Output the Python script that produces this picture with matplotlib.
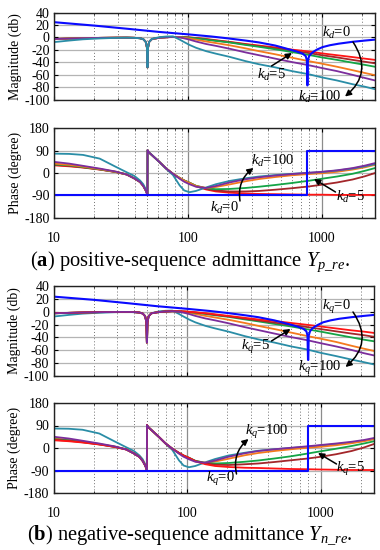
import matplotlib
matplotlib.use('Agg')
import matplotlib.pyplot as plt
from matplotlib.ticker import LogLocator, NullFormatter, FixedLocator

plt.rcParams['font.family'] = ['Liberation Serif', 'DejaVu Serif']
plt.rcParams['mathtext.fontset'] = 'custom'
plt.rcParams['mathtext.rm'] = 'Liberation Serif'
plt.rcParams['mathtext.it'] = 'Liberation Serif:italic'
plt.rcParams['mathtext.bf'] = 'Liberation Serif:bold'
plt.rcParams['axes.unicode_minus'] = False

# ---------------- data ----------------
freq = [10, 13, 16.5, 22, 29, 35, 40, 44, 46.5, 48.5, 49.5, 49.95, 50.05, 50.5, 51.5, 54, 61.5, 69, 77.5,
        87, 94, 103, 115, 137, 162, 204, 270, 340, 450, 600, 800, 1000, 1300, 1700, 2100, 2500]

# (a) magnitude, dB
mag_a_red    = [-2.5, -1.8, -1.2, -0.7, -0.4, -0.3, -0.6, -1.3, -2.8, -7, -16, -48, -48, -16, -7, -2.5, -0.5, 0.3, 0.8,
                0.7, 0.5, 0, -0.8, -2.5, -4.5, -7, -10.5, -13, -16, -19.5, -22.5, -25.5, -28.5, -31.5, -34, -36]
mag_a_brown  = [-2.5, -1.8, -1.2, -0.7, -0.4, -0.3, -0.6, -1.3, -2.8, -7, -16, -48, -48, -16, -7, -2.5, -0.5, 0.3, 0.8,
                0.7, 0.4, -0.2, -1.1, -3, -5, -7.5, -11.2, -14, -17.5, -21.5, -25, -28.5, -32, -36, -39, -41.5]
mag_a_green  = [-2.5, -1.8, -1.2, -0.7, -0.4, -0.3, -0.6, -1.3, -2.8, -7, -16, -48, -48, -16, -7, -2.5, -0.5, 0.3, 0.8,
                0.6, 0.2, -0.5, -1.5, -3.5, -5.5, -8, -12, -15, -19, -23.5, -28, -32, -36, -40.5, -44, -47]
mag_a_orange = [-2.5, -1.8, -1.2, -0.7, -0.4, -0.3, -0.6, -1.3, -2.8, -7, -16, -48, -48, -16, -7, -2.5, -0.5, 0.3, 0.8,
                0.3, -0.6, -1.8, -3.5, -6.5, -9, -12.5, -17.5, -22, -27, -32.5, -38, -42, -47, -52.5, -57, -60.5]
mag_a_purple = [-2.5, -1.8, -1.2, -0.7, -0.4, -0.3, -0.6, -1.3, -2.8, -7, -16, -48, -48, -16, -7, -2.5, -0.5, 0.3, 0.8,
                0, -1.5, -3.5, -6.5, -10.5, -13.5, -18, -24, -28.5, -34, -39.5, -44.5, -49, -54, -60, -65, -69]
mag_a_teal   = [-7.5, -5, -3, -1.6, -0.7, -0.4, -0.7, -1.4, -2.9, -7, -16, -48, -48, -16, -7, -2.3, 0.5, 1.5, 1.8,
                -3.5, -7.5, -12, -16.5, -22, -26, -31, -38, -43, -48, -54, -59, -64, -69, -75, -79, -83]

# (a) phase, degree
ph_a_red    = [31, 27, 22, 14, 4, -6, -22, -36, -52, -70, -82, -90, 92, 88, 82, 72, 44, 18, -3,
               -20, -30, -40, -53, -66, -74, -79, -82, -84, -85, -86, -87, -87, -88, -88, -88, -88]
ph_a_brown  = [33, 29, 23, 14.5, 4, -6, -22, -36, -52, -70, -82, -90, 92, 88, 82, 72, 44, 18, -3,
               -20, -30, -39, -52, -63, -70, -74, -74, -72, -67, -61, -54, -47, -38, -26, -13, 0]
ph_a_green  = [35, 31, 24, 15, 4.5, -5.5, -22, -36, -52, -70, -82, -90, 92, 88, 82, 72, 44, 18, -3,
               -20, -30, -39, -51, -61, -65, -64, -60, -55, -48, -40, -31, -23, -14, -3, 9, 20]
ph_a_orange = [38, 33, 26, 16, 5, -5.5, -22, -36, -52, -70, -82, -90, 92, 88, 82, 72, 44, 18, -3,
               -20, -31, -40, -52, -60, -56, -46, -33, -24, -16, -9, -4, -1, 5, 14, 23, 33]
ph_a_purple = [45, 38, 29, 18, 6, -6, -22, -36, -52, -70, -82, -90, 92, 88, 82, 72, 44, 18, -3,
               -23, -35, -45, -55, -60, -52, -38, -25, -17, -10, -4, 1, 5, 11, 20, 30, 40]
ph_a_teal   = [78, 77, 73, 58, 25, 3, -12, -30, -45, -65, -80, -90, 92, 88, 82, 72, 44, 17, -8,
               -50, -70, -77, -72, -58, -45, -32, -21, -14, -8, -3, 1, 4, 10, 18, 27, 36]

# kd = 0 (blue)
blue_freq_a = [10, 20, 37, 60, 100, 150, 200, 270, 340, 450, 569, 650, 720, 760, 775, 781, 783, 789, 805, 835,
               861, 920, 1014, 1150, 1340, 1700, 2100, 2500]
mag_a_blue  = [24.5, 19, 13.5, 9, 5, 1.5, -1.5, -5, -8, -13, -19, -22.5, -26, -30, -37, -77, -77, -37, -30, -26,
               -23.5, -19.5, -15.5, -12.5, -10, -7, -5, -3.5]
blue_pfreq_a = [10, 782, 782, 2500]
ph_a_blue    = [-90, -90, 90, 90]

# (b) magnitude, dB
mag_b_red    = [-2.3, -1.7, -1.1, -0.6, -0.4, -0.3, -0.6, -1.3, -2.8, -7, -16, -48, -48, -16, -7, -2.5, -0.5, 0.3, 0.8,
                0.7, 0.5, 0, -0.8, -2.3, -4, -6.5, -9.5, -12, -14.5, -17.5, -20.5, -23, -26, -29, -31, -33]
mag_b_brown  = [-2.4, -1.8, -1.2, -0.7, -0.4, -0.3, -0.6, -1.3, -2.8, -7, -16, -48, -48, -16, -7, -2.5, -0.5, 0.3, 0.8,
                0.7, 0.4, -0.2, -1.1, -2.8, -4.8, -7.2, -10.8, -13.5, -17, -20.5, -24, -27, -30.5, -34, -36.5, -39]
mag_b_green  = [-2.5, -1.8, -1.2, -0.7, -0.4, -0.3, -0.6, -1.3, -2.8, -7, -16, -48, -48, -16, -7, -2.5, -0.5, 0.3, 0.8,
                0.6, 0.2, -0.5, -1.5, -3.5, -5.5, -8, -12, -15, -19, -23, -27.5, -31, -35.5, -40, -43.5, -46]
mag_b_orange = [-2.5, -1.8, -1.2, -0.7, -0.4, -0.3, -0.6, -1.3, -2.8, -7, -16, -48, -48, -16, -7, -2.5, -0.5, 0.3, 0.8,
                0.3, -0.6, -1.8, -3.5, -6.5, -9, -12.5, -17.5, -22, -27, -32.5, -38, -42, -47, -53, -57.5, -61]
mag_b_purple = [-2.5, -1.8, -1.2, -0.7, -0.4, -0.3, -0.6, -1.3, -2.8, -7, -16, -48, -48, -16, -7, -2.5, -0.5, 0.3, 0.8,
                0, -1.5, -3.5, -6.5, -10.5, -13.5, -18, -24, -28.5, -34, -39.5, -44.5, -49, -54, -59.5, -64.5, -68]
mag_b_teal   = [-7.5, -5, -3, -1.6, -0.7, -0.4, -0.7, -1.4, -2.9, -7, -16, -48, -48, -16, -7, -2.3, 0.5, 1.5, 1.8,
                -3.5, -7.5, -12, -16.5, -22, -26, -31, -38, -43, -48, -54, -59, -64, -69, -74.5, -78.5, -82]

# (b) phase, degree
ph_b_red    = [31, 27, 22, 14, 4, -6, -22, -36, -52, -70, -82, -90, 92, 88, 82, 72, 44, 18, -3,
               -20, -30, -40, -53, -65, -72, -76, -79, -80, -82, -84, -85, -86, -87, -88, -88, -88]
ph_b_brown  = [33, 29, 23, 14.5, 4, -6, -22, -36, -52, -70, -82, -90, 92, 88, 82, 72, 44, 18, -3,
               -20, -30, -39, -52, -62, -67, -68, -65, -62, -56, -49, -42, -35, -25, -12, 2, 16]
ph_b_green  = [35, 31, 24, 15, 4.5, -5.5, -22, -36, -52, -70, -82, -90, 92, 88, 82, 72, 44, 18, -3,
               -20, -30, -39, -51, -60, -62, -60, -55, -50, -42, -33, -22, -13, -3, 8, 18, 27]
ph_b_orange = [38, 33, 26, 16, 5, -5.5, -22, -36, -52, -70, -82, -90, 92, 88, 82, 72, 44, 18, -3,
               -20, -31, -40, -52, -59, -54, -43, -29, -20, -12, -5, 1, 5, 11, 19, 27, 35]
ph_b_purple = [45, 38, 29, 18, 6, -6, -22, -36, -52, -70, -82, -90, 92, 88, 82, 72, 44, 18, -3,
               -23, -35, -45, -55, -59, -50, -35, -21, -12, -5, 1, 7, 12, 18, 25, 32, 40]
ph_b_teal   = [78, 77, 73, 58, 25, 3, -12, -30, -45, -65, -80, -90, 92, 88, 82, 72, 44, 17, -8,
               -50, -70, -77, -72, -57, -44, -30, -19, -11, -5, 0, 5, 10, 15, 22, 29, 37]

blue_freq_b = [10, 20, 37, 60, 100, 150, 200, 270, 340, 450, 580, 665, 740, 780, 795, 802, 806, 812, 830, 860,
               890, 950, 1040, 1180, 1370, 1700, 2100, 2500]
mag_b_blue  = [23.5, 18.5, 13, 8.5, 4.5, 1, -2, -5.5, -8.5, -13.5, -19.5, -23, -26.5, -30.5, -37, -75, -75, -37, -30.5, -26.5,
               -24, -20.5, -16.5, -13.5, -11, -8.5, -6.5, -5]
blue_pfreq_b = [10, 800, 800, 2500]
ph_b_blue    = [-90, -90, 90, 90]

colors = {'blue': '#0a0aff', 'red': '#ff1414', 'brown': '#a3262a', 'green': '#14a446',
          'orange': '#f47a1e', 'purple': '#7b2d9c', 'teal': '#2a8da6'}

# ---------------- figure ----------------
fig = plt.figure(figsize=(3.8, 5.5), dpi=100)


def rect(left, top, right, bottom):
    return [left / 380, 1 - bottom / 550, (right - left) / 380, (bottom - top) / 550]


def fxy(px, py):
    return (px / 380, 1 - py / 550)


ax_am = fig.add_axes(rect(53.9, 12.5, 375, 99.8))
ax_ap = fig.add_axes(rect(53.9, 128.3, 375, 217.8))
ax_bm = fig.add_axes(rect(53.5, 286, 374, 376))
ax_bp = fig.add_axes(rect(53.5, 403, 374, 493))


def style(ax, ylim, yticks, xlab, ylabel):
    ax.set_xscale('log')
    ax.set_xlim(10, 2500)
    ax.set_ylim(*ylim)
    ax.yaxis.set_major_locator(FixedLocator(yticks))
    ax.set_xticks([10, 100, 1000])
    ax.set_xticklabels(['10', '100', '1000'] if xlab else [])
    ax.xaxis.set_minor_locator(LogLocator(base=10, subs=[2, 3, 4, 5, 6, 7, 8, 9], numticks=20))
    ax.xaxis.set_minor_formatter(NullFormatter())
    ax.grid(which='major', axis='y', color='#b4b4b4', lw=0.9, ls='-')
    ax.grid(which='major', axis='x', color='#8c8c8c', lw=0.9, ls='-')
    ax.grid(which='minor', axis='x', color='#707070', lw=0.7, ls=(0, (1, 2.2)))
    ax.set_axisbelow(True)
    ax.tick_params(which='major', direction='in', top=True, right=True, length=3, width=0.8,
                   labelsize=10, pad=3)
    ax.tick_params(which='minor', direction='in', top=True, right=True, length=1.5, width=0.6)
    ax.tick_params(axis='x', which='major', pad=10)
    for s in ax.spines.values():
        s.set_linewidth(1.0)
        s.set_color('#222222')
    ax.set_ylabel(ylabel, fontsize=10)
    ax.yaxis.set_label_coords(-0.1, 0.5)


lw = 1.3
mag_ticks = [40, 20, 0, -20, -40, -60, -80, -100]
ph_ticks = [180, 90, 0, -90, -180]

# (a) magnitude
for vals, c in [(mag_a_red, 'red'), (mag_a_brown, 'brown'), (mag_a_green, 'green'),
                (mag_a_orange, 'orange'), (mag_a_purple, 'purple'), (mag_a_teal, 'teal')]:
    ax_am.plot(freq, vals, color=colors[c], lw=lw)
ax_am.plot(blue_freq_a, mag_a_blue, color=colors['blue'], lw=lw + 0.2)
style(ax_am, (-100, 40), mag_ticks, False, 'Magnitude (db)')

# (a) phase
for vals, c in [(ph_a_red, 'red'), (ph_a_brown, 'brown'), (ph_a_green, 'green'),
                (ph_a_orange, 'orange'), (ph_a_teal, 'teal'), (ph_a_purple, 'purple')]:
    ax_ap.plot(freq, vals, color=colors[c], lw=lw)
ax_ap.plot(blue_pfreq_a, ph_a_blue, color=colors['blue'], lw=lw + 0.2)
style(ax_ap, (-180, 180), ph_ticks, True, 'Phase (degree)')

# (b) magnitude
for vals, c in [(mag_b_teal, 'teal'), (mag_b_orange, 'orange'), (mag_b_green, 'green'),
                (mag_b_brown, 'brown'), (mag_b_red, 'red'), (mag_b_purple, 'purple')]:
    ax_bm.plot(freq, vals, color=colors[c], lw=lw)
ax_bm.plot(blue_freq_b, mag_b_blue, color=colors['blue'], lw=lw + 0.2)
style(ax_bm, (-100, 40), mag_ticks, False, 'Magnitude (db)')

# (b) phase
for vals, c in [(ph_b_teal, 'teal'), (ph_b_orange, 'orange'), (ph_b_green, 'green'),
                (ph_b_brown, 'brown'), (ph_b_red, 'red'), (ph_b_purple, 'purple')]:
    ax_bp.plot(freq, vals, color=colors[c], lw=lw)
ax_bp.plot(blue_pfreq_b, ph_b_blue, color=colors['blue'], lw=lw + 0.2)
style(ax_bp, (-180, 180), ph_ticks, True, 'Phase (degree)')

# ---------------- annotations ----------------
afs = 10.5


def label(px, py, s):
    fig.text(*fxy(px, py), s, ha='center', va='center', fontsize=afs, zorder=10)


def arrow(start, end, rad=0.0):
    fig.add_artist(matplotlib.patches.FancyArrowPatch(
        fxy(*start), fxy(*end), transform=fig.transFigure,
        arrowstyle='-|>', mutation_scale=9, color='k', lw=1.1,
        connectionstyle='arc3,rad=%g' % rad, shrinkA=0, shrinkB=0, zorder=10))


label(336, 33, r'$k_d$=0')
label(319.5, 96.5, r'$k_d$=100')
label(271, 75, r'$k_d$=5')
arrow((353, 42), (345, 96.5), -0.45)
arrow((271.5, 66), (292, 53))

label(272.5, 161, r'$k_d$=100')
label(224.5, 208, r'$k_d$=0')
label(350, 196.5, r'$k_d$=5')
arrow((240, 201), (253.5, 168), -0.3)
arrow((335.5, 192), (314, 179))

label(336.5, 306.5, r'$k_q$=0')
label(320, 367.5, r'$k_q$=100')
label(255.5, 346.5, r'$k_q$=5')
arrow((353, 312), (345.5, 367), -0.45)
arrow((271.5, 341), (290.5, 329))

label(267, 432, r'$k_q$=100')
label(220, 479, r'$k_q$=0')
label(350, 468.5, r'$k_q$=5')
arrow((236.5, 474), (248.5, 439), -0.3)
arrow((336.5, 464), (318, 453))

# captions
fig.text(*fxy(190, 262), r'(${\bf a}$) positive-sequence admittance $Y_{p\_re}$.',
         ha='center', va='center', fontsize=14.8)
fig.text(*fxy(190, 535), r'(${\bf b}$) negative-sequence admittance $Y_{n\_re}$.',
         ha='center', va='center', fontsize=14.8)

fig.savefig('out.png', dpi=100)
